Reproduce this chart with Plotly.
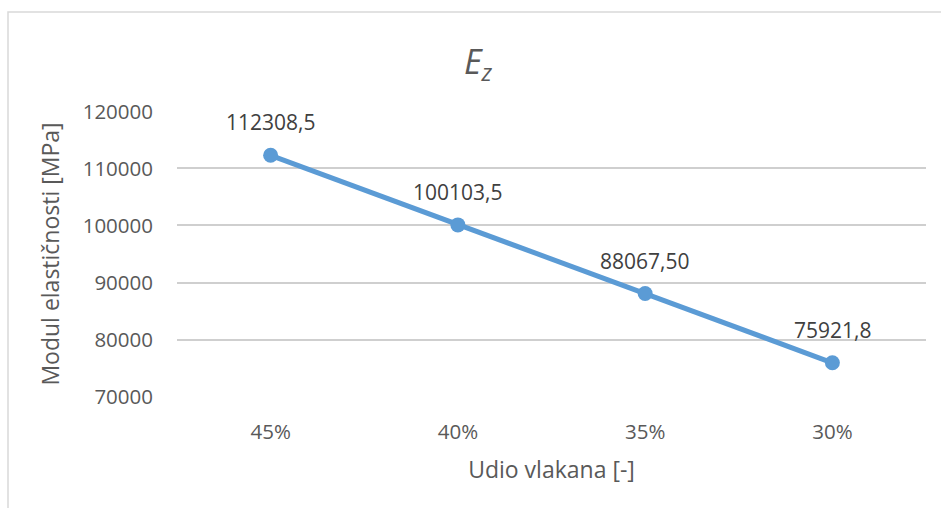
import plotly.graph_objects as go

# Fibre fraction categories and the elastic modulus E_z for each
categories = ["45%", "40%", "35%", "30%"]
modulus = [112308.5, 100103.5, 88067.50, 75921.8]
value_labels = ["112308,5", "100103,5", "88067,50", "75921,8"]
y_ticks = [70000, 80000, 90000, 100000, 110000, 120000]

W, H = 941, 508
L, R, T, B = 177, 15, 111, 111
pw, ph = W - L - R, H - T - B

line_color = "#5B9BD5"
grid_color = "#CFCFCF"
frame_color = "#D9D9D9"
text_color = "#595959"
label_color = "#404040"
font_family = "Open Sans, DejaVu Sans, sans-serif"

fig = go.Figure()
fig.add_trace(go.Scatter(
    x=categories, y=modulus,
    mode="lines+markers",
    line=dict(color=line_color, width=5),
    marker=dict(color=line_color, size=15),
    hoverinfo="skip",
))

for c, v, t in zip(categories, modulus, value_labels):
    fig.add_annotation(x=c, y=v, text=t, showarrow=False, yshift=33,
                       font=dict(size=21, color=label_color, family=font_family))

def px_x(p):
    return (p - L) / pw

def px_y(p):
    return (H - B - p) / ph

# chart frame
fig.add_shape(type="rect", xref="paper", yref="paper", layer="below",
              x0=px_x(8), x1=px_x(960), y0=px_y(530), y1=px_y(12),
              line=dict(color=frame_color, width=1.5), fillcolor="rgba(0,0,0,0)")

fig.update_layout(
    width=W, height=H,
    margin=dict(l=L, r=R, t=T, b=B),
    paper_bgcolor="white", plot_bgcolor="white",
    showlegend=False,
    title=dict(text="<i>E<sub>z</sub></i>", x=478 / W, xanchor="center",
               y=1 - 62 / H, yanchor="middle",
               font=dict(size=34, color=text_color, family=font_family)),
    xaxis=dict(
        type="category", range=[-0.5, 3.5],
        showgrid=False, zeroline=False, showline=False,
        ticks="", ticklabelstandoff=20,
        tickfont=dict(size=20.5, color=text_color, family=font_family),
        title=dict(text="Udio vlakana [-]", standoff=18,
                   font=dict(size=23, color=text_color, family=font_family)),
    ),
    yaxis=dict(
        # a hair of padding so the 70000 and 120000 gridlines are drawn too
        range=[69920, 120080], tickmode="array", tickvals=y_ticks,
        ticktext=[str(v) for v in y_ticks],
        showgrid=True, gridcolor=grid_color, gridwidth=2,
        zeroline=False, showline=False, ticks="", ticklabelstandoff=23,
        tickfont=dict(size=20.5, color=text_color, family=font_family),
        title=dict(text="Modul elastičnosti [MPa]", standoff=16,
                   font=dict(size=23, color=text_color, family=font_family)),
    ),
)

fig.write_html("out.html")
